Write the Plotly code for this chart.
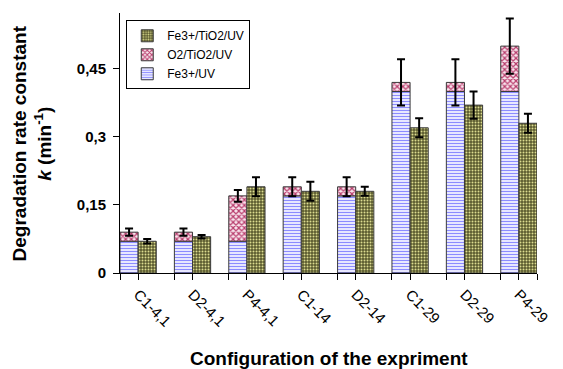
import plotly.graph_objects as go

categories = ["C1-4,1", "D2-4,1", "P4-4,1", "C1-14", "D2-14", "C1-29", "D2-29", "P4-29"]
fe_uv = [0.07, 0.07, 0.07, 0.17, 0.17, 0.40, 0.40, 0.40]
o2_tio2_uv_added = [0.02, 0.02, 0.10, 0.02, 0.02, 0.02, 0.02, 0.10]
o2_err = [0.008, 0.008, 0.013, 0.021, 0.021, 0.051, 0.051, 0.061]
fe_tio2_uv = [0.07, 0.08, 0.19, 0.18, 0.18, 0.32, 0.37, 0.33]
fe_tio2_err = [0.005, 0.004, 0.021, 0.021, 0.010, 0.021, 0.030, 0.021]
ytick_vals = [0, 0.15, 0.3, 0.45]
ytick_text = ["0", "0,15", "0,3", "0,45"]

FONT = "Liberation Sans, Arial, sans-serif"
x = list(range(len(categories)))
outline = dict(color="#3a3a3a", width=1)

fig = go.Figure()
fig.add_trace(go.Bar(
    x=x, y=fe_uv, name="Fe3+/UV", offsetgroup="a",
    marker=dict(color="white", line=outline,
                pattern=dict(shape="-", fgcolor="#8c8cff", bgcolor="#fafaff",
                             size=3, solidity=0.45, fillmode="replace")),
))
fig.add_trace(go.Bar(
    x=x, y=o2_tio2_uv_added, base=fe_uv, name="O2/TiO2/UV", offsetgroup="a",
    marker=dict(color="white", line=outline,
                pattern=dict(shape="x", fgcolor="#b83c6c", bgcolor="#f8e4ec",
                             size=4, solidity=0.5, fillmode="replace")),
    error_y=dict(type="data", array=o2_err, color="black", thickness=2, width=4),
))
fig.add_trace(go.Bar(
    x=x, y=fe_tio2_uv, name="Fe3+/TiO2/UV", offsetgroup="b",
    marker=dict(color="#5e5e30", line=outline,
                pattern=dict(shape=".", fgcolor="#dcdc90", bgcolor="#5a5a2e",
                             size=3, solidity=0.35, fillmode="replace")),
    error_y=dict(type="data", array=fe_tio2_err, color="black", thickness=2, width=4),
))

tickvals, ticktext = [], []
for i, c in enumerate(categories):
    for d, lab in ((-1/3, ""), (0.0, c)):
        tickvals.append(i + d)
        ticktext.append(lab)
tickvals.append(len(categories) - 1 + 1/3)
ticktext.append("")

fig.update_layout(
    width=563, height=369,
    margin=dict(l=120, r=16, t=13, b=96),
    paper_bgcolor="white", plot_bgcolor="white",
    barmode="group", bargap=1/3, bargroupgap=0,
    font=dict(family=FONT, color="black"),
    showlegend=True,
    legend=dict(x=0.015, y=0.972, xanchor="left", yanchor="top",
                traceorder="reversed", bgcolor="white",
                bordercolor="black", borderwidth=1,
                font=dict(size=12, family=FONT), itemwidth=30,
                tracegroupgap=0),
    xaxis=dict(range=[-1/3, len(categories) - 1 + 1/3], tickmode="array",
               tickvals=tickvals, ticktext=ticktext, tickangle=45,
               ticks="outside", ticklen=6, tickcolor="black",
               showline=True, linecolor="black", linewidth=1,
               showgrid=False, zeroline=False,
               tickfont=dict(size=15, family=FONT)),
    yaxis=dict(range=[0, 0.573], tickmode="array", tickvals=ytick_vals,
               ticktext=["<b>" + t + "</b>" for t in ytick_text],
               ticks="outside", ticklen=6,
               tickcolor="black", showline=True, linecolor="black",
               linewidth=1, showgrid=False, zeroline=False,
               tickfont=dict(size=15, family=FONT), ticklabelstandoff=4),
    annotations=[
        dict(text="<b>Degradation rate constant</b><br><b><i>k</i> (min<sup>-1</sup>)</b>",
             xref="paper", yref="paper", x=-0.21, y=0.5, textangle=-90,
             xanchor="center", yanchor="middle", showarrow=False,
             font=dict(size=19, family=FONT)),
        dict(text="<b>Configuration of the expriment</b>",
             xref="paper", yref="paper", x=0.5, y=-0.33,
             xanchor="center", yanchor="middle", showarrow=False,
             font=dict(size=19, family=FONT)),
    ],
)

fig.write_html("out.html")
